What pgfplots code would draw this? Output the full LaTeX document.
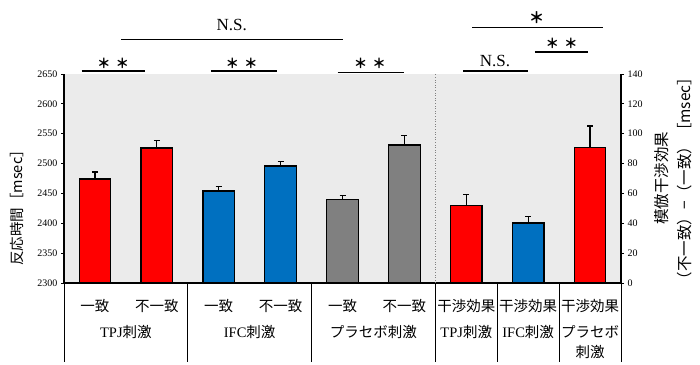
\documentclass[border=0pt]{standalone}
\usepackage{fontspec}
\setmainfont{Liberation Serif}
\newfontfamily\jp{Noto Sans CJK JP}
\newfontfamily\lat{Liberation Serif}
\usepackage{pgfplots}
\usepackage{pgfplotstable}
\pgfplotsset{compat=1.18}
\definecolor{bgg}{RGB}{235,235,235}
\definecolor{bred}{RGB}{255,0,0}
\definecolor{bblue}{RGB}{0,112,192}
\definecolor{bgray}{RGB}{128,128,128}
\pgfplotstableread{
x y e
0 2474 12
1 2526 12
}\redL
\pgfplotstableread{
x y e
2 2454 8
3 2496 8
}\blueL
\pgfplotstableread{
x y e
4 2440 7
5 2531 16
}\grayL
\pgfplotstableread{
x y e
6 52.0 7.2
8 90.6 14.6
}\redR
\pgfplotstableread{
x y e
7 40.2 4.2
}\blueR
\newcommand{\jpf}{\jp\fontsize{14.5}{16}\selectfont}
\newcommand{\astf}{\jp\bfseries\fontsize{13.5}{16}\selectfont}
\begin{document}
\begin{tikzpicture}
\pgfplotsset{
  common/.style={
    width=557pt, height=209pt, scale only axis,
    xmin=-0.5, xmax=8.5,
    tick align=outside, major tick length=3pt,
    yticklabel style={font=\fontsize{10}{12}\selectfont},
    /pgf/number format/assume math mode=true,
    /pgf/number format/1000 sep={},
    axis line style={black, line width=1.3pt, -},
    y tick style={black, line width=0.8pt},
    clip=false, ybar, bar width=31.5pt,
    error bars/y dir=plus, error bars/y explicit,
    error bars/error bar style={black, line width=1.2pt},
    error bars/error mark options={rotate=90, black, mark size=3pt, line width=1.2pt},
  },
  barsty/.style={draw=black, line width=1.2pt, bar shift=0pt},
}
\begin{axis}[common, name=ax, at={(0,0)}, anchor=south west,
  ymin=2300, ymax=2650,
  axis y line*=left, axis x line*=bottom,
  axis background/.style={fill=bgg},
  ytick={2300,2350,...,2650},
  xtick={0,...,8},
  xticklabels={一致,不一致,一致,不一致,一致,不一致,干渉効果,干渉効果,干渉効果},
  xticklabel style={font=\jpf, anchor=center, yshift=-19.7pt},
  x tick style={draw=none},
]
\draw[gray, dotted, line width=0.6pt] (axis cs:5.5,2300) -- (axis cs:5.5,2650);
\addplot[barsty, fill=bred] table[x=x, y=y, y error=e] {\redL};
\addplot[barsty, fill=bblue] table[x=x, y=y, y error=e] {\blueL};
\addplot[barsty, fill=bgray] table[x=x, y=y, y error=e] {\grayL};
% separators below axis
\pgfplotsinvokeforeach{-0.5,1.5,3.5,5.5,6.5,7.5,8.5}{
  \draw[black, line width=1pt] (axis cs:#1,2300) -- ([yshift=-79pt]axis cs:#1,2300);
}
% group labels
\node[font=\jpf] at ([yshift=-48.7pt]axis cs:0.5,2300) {{\lat TPJ}刺激};
\node[font=\jpf] at ([yshift=-48.7pt]axis cs:2.5,2300) {{\lat IFC}刺激};
\node[font=\jpf] at ([yshift=-48.7pt]axis cs:4.5,2300) {プラセボ刺激};
\node[font=\jpf] at ([yshift=-48.7pt]axis cs:6,2300) {{\lat TPJ}刺激};
\node[font=\jpf] at ([yshift=-48.7pt]axis cs:7,2300) {{\lat IFC}刺激};
\node[font=\jpf] at ([yshift=-48.7pt]axis cs:8,2300) {プラセボ};
\node[font=\jpf] at ([yshift=-69pt]axis cs:8,2300) {刺激};
% significance
\draw[line width=1.3pt] (axis cs:-0.214,2655) -- (axis cs:0.809,2655);
\node[font=\astf] at (axis cs:0.292,2668) {＊\hspace{5pt}＊};
\draw[line width=1.3pt] (axis cs:1.875,2655) -- (axis cs:2.936,2655);
\node[font=\astf] at (axis cs:2.371,2668) {＊\hspace{5pt}＊};
\draw[line width=1.3pt] (axis cs:3.92,2653) -- (axis cs:4.99,2653);
\node[font=\astf] at (axis cs:4.443,2668) {＊\hspace{5pt}＊};
\draw[line width=1.3pt] (axis cs:0.421,2708) -- (axis cs:4.0,2708);
\node[font=\fontsize{17}{19}\selectfont] at (axis cs:2.209,2732) {N.S.};
\draw[line width=1.3pt] (axis cs:6.096,2728) -- (axis cs:8.21,2728);
\node[font=\jp\bfseries\fontsize{15.5}{18}\selectfont] at (axis cs:7.136,2744) {＊};
\draw[line width=1.3pt] (axis cs:7.11,2687) -- (axis cs:7.97,2687);
\node[font=\astf] at (axis cs:7.54,2702) {＊\hspace{5pt}＊};
\draw[line width=1.3pt] (axis cs:5.95,2655) -- (axis cs:7.0,2655);
\node[font=\fontsize{17}{19}\selectfont] at (axis cs:6.463,2671) {N.S.};
% axis labels
\node[rotate=90, font=\jpf] at ([xshift=-47pt]rel axis cs:0,0.376) {反応時間［msec］};
\node[rotate=90, align=center, font=\jp\fontsize{15.5}{23}\selectfont] at ([xshift=52.4pt]rel axis cs:1,0.5) {模倣干渉効果\\（不一致）−（一致）［msec］};
\end{axis}
\begin{axis}[common, at={(ax.south west)}, anchor=south west,
  ymin=0, ymax=140,
  axis y line*=right, axis x line=none,
  ytick={0,20,...,140},
]
\addplot[barsty, fill=bred] table[x=x, y=y, y error=e] {\redR};
\addplot[barsty, fill=bblue] table[x=x, y=y, y error=e] {\blueR};
\end{axis}
\pgfresetboundingbox
\path ([shift={(-64pt,-82pt)}]ax.south west) rectangle ([shift={(79pt,74pt)}]ax.north east);
\end{tikzpicture}
\end{document}
